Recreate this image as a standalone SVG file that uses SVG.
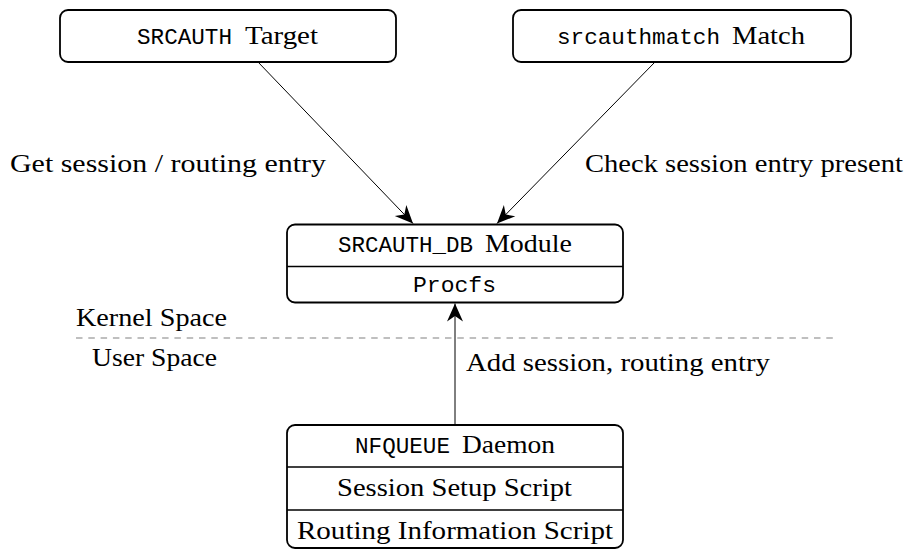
<svg xmlns="http://www.w3.org/2000/svg" width="906" height="551" viewBox="0 0 906 551">
<defs>
<style>
.box{fill:#fff;stroke:#000;stroke-width:1.8}
.div{stroke:#000;stroke-width:1.6}
.rm{font-family:"Liberation Serif","Times New Roman",serif;font-size:26px;fill:#000}
.tt{font-family:"Liberation Mono","Courier New",monospace;font-size:22.5px;fill:#000}
.edge{stroke:#000;stroke-width:1;fill:none;marker-end:url(#ah)}
.sep{stroke:#808080;stroke-width:1.2;stroke-dasharray:6.5 5.8}
</style>
<marker id="ah" viewBox="-20 -10 22 20" refX="0" refY="0" markerWidth="22" markerHeight="20" markerUnits="userSpaceOnUse" orient="auto">
<path d="M0,0 L-18,-8 L-12.5,0 L-18,8 Z" fill="#000"/>
</marker>
</defs>
<rect width="906" height="551" fill="#fff"/>
<g id="connectors">
<line class="edge" x1="258" y1="62" x2="413" y2="223.5"/>
<line class="edge" x1="655" y1="62" x2="497" y2="223.5"/>
<line class="edge" x1="455" y1="425" x2="455" y2="303.5"/>
</g>
<g id="labels">
<text class="rm" x="10" y="172" textLength="316" lengthAdjust="spacingAndGlyphs">Get session / routing entry</text>
<text class="rm" x="585" y="172" textLength="318" lengthAdjust="spacingAndGlyphs">Check session entry present</text>
<text class="rm" x="466" y="371" textLength="304" lengthAdjust="spacingAndGlyphs">Add session, routing entry</text>
<text class="rm" x="76" y="326" textLength="151" lengthAdjust="spacingAndGlyphs">Kernel Space</text>
<text class="rm" x="92" y="366" textLength="125" lengthAdjust="spacingAndGlyphs">User Space</text>
</g>
<line id="separator" class="sep" x1="76" y1="338" x2="834" y2="338"/>
<g id="srcauth-target">
<rect class="box" x="60" y="10" width="336" height="52" rx="8"/>
<text class="tt" x="137" y="44" textLength="95" lengthAdjust="spacingAndGlyphs">SRCAUTH</text>
<text class="rm" x="245" y="44" textLength="73" lengthAdjust="spacingAndGlyphs">Target</text>
</g>
<g id="srcauthmatch-match">
<rect class="box" x="513" y="10" width="338" height="52" rx="8"/>
<text class="tt" x="557" y="44" textLength="163" lengthAdjust="spacingAndGlyphs">srcauthmatch</text>
<text class="rm" x="732" y="44" textLength="73" lengthAdjust="spacingAndGlyphs">Match</text>
</g>
<g id="srcauth-db">
<rect class="box" x="287" y="224.5" width="336" height="78" rx="8"/>
<line class="div" x1="287" y1="266.5" x2="623" y2="266.5"/>
<text class="tt" x="338" y="252" textLength="135" lengthAdjust="spacingAndGlyphs">SRCAUTH_DB</text>
<text class="rm" x="485" y="252" textLength="87" lengthAdjust="spacingAndGlyphs">Module</text>
<text class="tt" x="413" y="292" textLength="83" lengthAdjust="spacingAndGlyphs">Procfs</text>
</g>
<g id="nfqueue-daemon">
<rect class="box" x="287" y="425" width="336" height="123" rx="8"/>
<line class="div" x1="287" y1="467" x2="623" y2="467"/>
<line class="div" x1="287" y1="510" x2="623" y2="510"/>
<text class="tt" x="355" y="453" textLength="95" lengthAdjust="spacingAndGlyphs">NFQUEUE</text>
<text class="rm" x="462" y="453" textLength="93" lengthAdjust="spacingAndGlyphs">Daemon</text>
<text class="rm" x="337" y="496" textLength="235" lengthAdjust="spacingAndGlyphs">Session Setup Script</text>
<text class="rm" x="297" y="539" textLength="316" lengthAdjust="spacingAndGlyphs">Routing Information Script</text>
</g>
</svg>
